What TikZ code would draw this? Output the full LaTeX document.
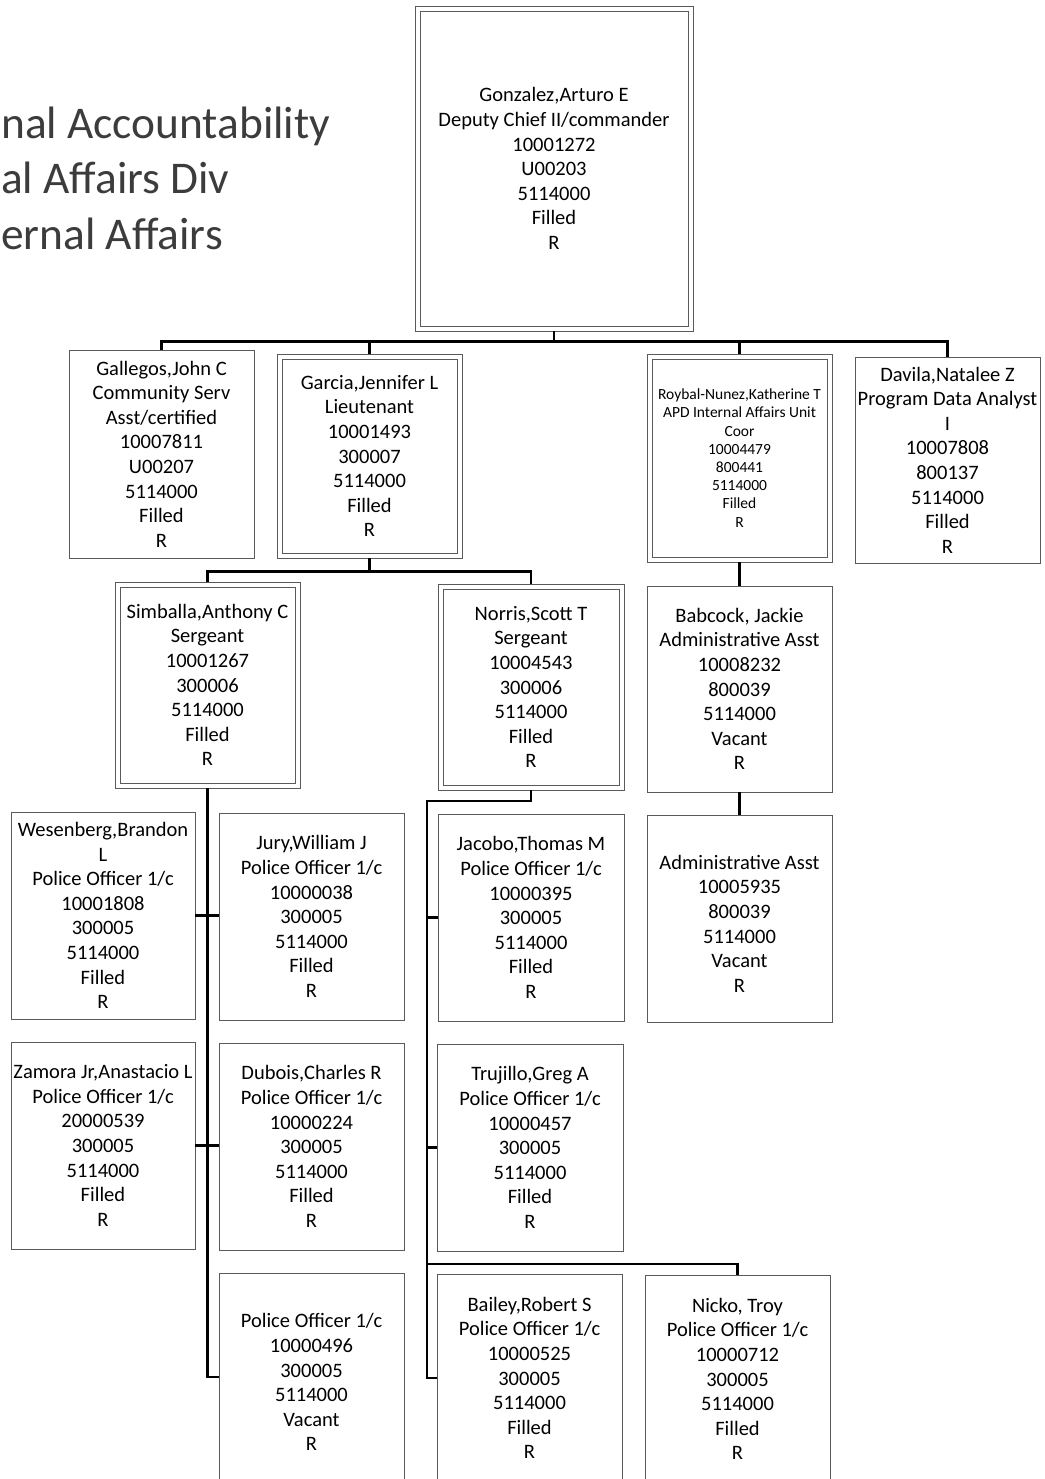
\documentclass[tikz,border=0pt]{standalone}
\usepackage{fontspec}
\setmainfont{Carlito}
\usetikzlibrary{calc}
\definecolor{inkgray}{HTML}{3C3C3C}
\definecolor{rulegray}{HTML}{5A5A5A}
\begin{document}
\begin{tikzpicture}[x=1pt, y=-1pt,
  box/.style={draw=rulegray, line width=0.9pt, inner sep=0pt, align=center, text=black,
    font=\fontsize{20.5}{24.6}\selectfont},
  dbox/.style={box, append after command={\pgfextra{\draw[rulegray, line width=0.9pt]
    ($(\tikzlastnode.north west)+(5.5,5.5)$) rectangle ($(\tikzlastnode.south east)+(-5.5,-5.5)$);}}},
  small/.style={font=\fontsize{15.5}{18.2}\selectfont},
  link/.style={draw=black, line width=2.1pt},
  title/.style={anchor=west, align=left, inner sep=0pt, text=inkgray, font=\fontsize{45.4}{55.5}\selectfont}]
\useasboundingbox (0,0) rectangle (1044,1479);
\clip (0,0) rectangle (1044,1479);

\node[title] (ttl) at (1,178) {nal Accountability\\al Affairs Div\\ernal Affairs};

\node[dbox, minimum width=278, minimum height=325] (gonz) at (554,168.5)
  {Gonzalez,Arturo E\\Deputy Chief II/commander\\10001272\\U00203\\5114000\\Filled\\R};

\node[box, minimum width=185, minimum height=208] (gall) at (161.5,454)
  {Gallegos,John C\\Community Serv\\Asst/certified\\10007811\\U00207\\5114000\\Filled\\R};
\node[dbox, minimum width=185, minimum height=204] (garc) at (369.5,456)
  {Garcia,Jennifer L\\Lieutenant\\10001493\\300007\\5114000\\Filled\\R};
\node[dbox, small, minimum width=185, minimum height=208] (royb) at (739.5,458)
  {Roybal-Nunez,Katherine T\\APD Internal Affairs Unit\\Coor\\10004479\\800441\\5114000\\Filled\\R};
\node[box, minimum width=185, minimum height=206] (davi) at (947.5,460)
  {Davila,Natalee Z\\Program Data Analyst\\I\\10007808\\800137\\5114000\\Filled\\R};

\node[dbox, minimum width=185, minimum height=206] (simb) at (207.5,685)
  {Simballa,Anthony C\\Sergeant\\10001267\\300006\\5114000\\Filled\\R};
\node[dbox, minimum width=186, minimum height=206] (norr) at (531,687)
  {Norris,Scott T\\Sergeant\\10004543\\300006\\5114000\\Filled\\R};
\node[box, minimum width=185, minimum height=206] (babc) at (739.5,689)
  {Babcock, Jackie\\Administrative Asst\\10008232\\800039\\5114000\\Vacant\\R};

\node[box, minimum width=184, minimum height=207] (wese) at (103,915.5)
  {Wesenberg,Brandon\\L\\Police Officer 1/c\\10001808\\300005\\5114000\\Filled\\R};
\node[box, minimum width=185, minimum height=207] (jury) at (311.5,916.5)
  {Jury,William J\\Police Officer 1/c\\10000038\\300005\\5114000\\Filled\\R};
\node[box, minimum width=186, minimum height=207] (jaco) at (531,917.5)
  {Jacobo,Thomas M\\Police Officer 1/c\\10000395\\300005\\5114000\\Filled\\R};
\node[box, minimum width=185, minimum height=207] (admn) at (739.5,918.5)
  {\mbox{}\\Administrative Asst\\10005935\\800039\\5114000\\Vacant\\R};

\node[box, minimum width=184, minimum height=207] (zamo) at (103,1145.5)
  {Zamora Jr,Anastacio L\\Police Officer 1/c\\20000539\\300005\\5114000\\Filled\\R};
\node[box, minimum width=185, minimum height=207] (dubo) at (311.5,1146.5)
  {Dubois,Charles R\\Police Officer 1/c\\10000224\\300005\\5114000\\Filled\\R};
\node[box, minimum width=186, minimum height=207] (truj) at (530,1147.5)
  {Trujillo,Greg A\\Police Officer 1/c\\10000457\\300005\\5114000\\Filled\\R};

\node[box, minimum width=185, minimum height=208] (vacp) at (311.5,1377)
  {\mbox{}\\Police Officer 1/c\\10000496\\300005\\5114000\\Vacant\\R};
\node[box, minimum width=185, minimum height=208] (bail) at (529.5,1378)
  {Bailey,Robert S\\Police Officer 1/c\\10000525\\300005\\5114000\\Filled\\R};
\node[box, minimum width=185, minimum height=208] (nick) at (737.5,1379)
  {Nicko, Troy\\Police Officer 1/c\\10000712\\300005\\5114000\\Filled\\R};

\draw[link] (gonz.south) -- ++(0,10) -| (gall.north);
\draw[link] (gonz.south) -- ++(0,10) -| (garc.north);
\draw[link] (gonz.south) -- ++(0,10) -| (royb.north);
\draw[link] (gonz.south) -- ++(0,10) -| (davi.north);

\draw[link] (garc.south) -- ++(0,13) -| (simb.north);
\draw[link] (garc.south) -- ++(0,13) -| (norr.north);
\draw[link] (royb.south) -- (babc.north);
\draw[link] (babc.south) -- (admn.north);

\draw[link] (simb.south) |- (vacp.west);
\draw[link] (wese.east) -- (wese.east -| jury.west);
\draw[link] (zamo.east) -- (zamo.east -| dubo.west);

\coordinate (nt) at (427,801);
\coordinate (nk) at (427,1264);
\draw[link] (norr.south) |- (nt) |- (bail.west);
\draw[link] (jaco.west) -- (jaco.west -| nt);
\draw[link] (truj.west) -- (truj.west -| nt);
\draw[link] (nk) -| (nick.north);
\end{tikzpicture}
\end{document}
